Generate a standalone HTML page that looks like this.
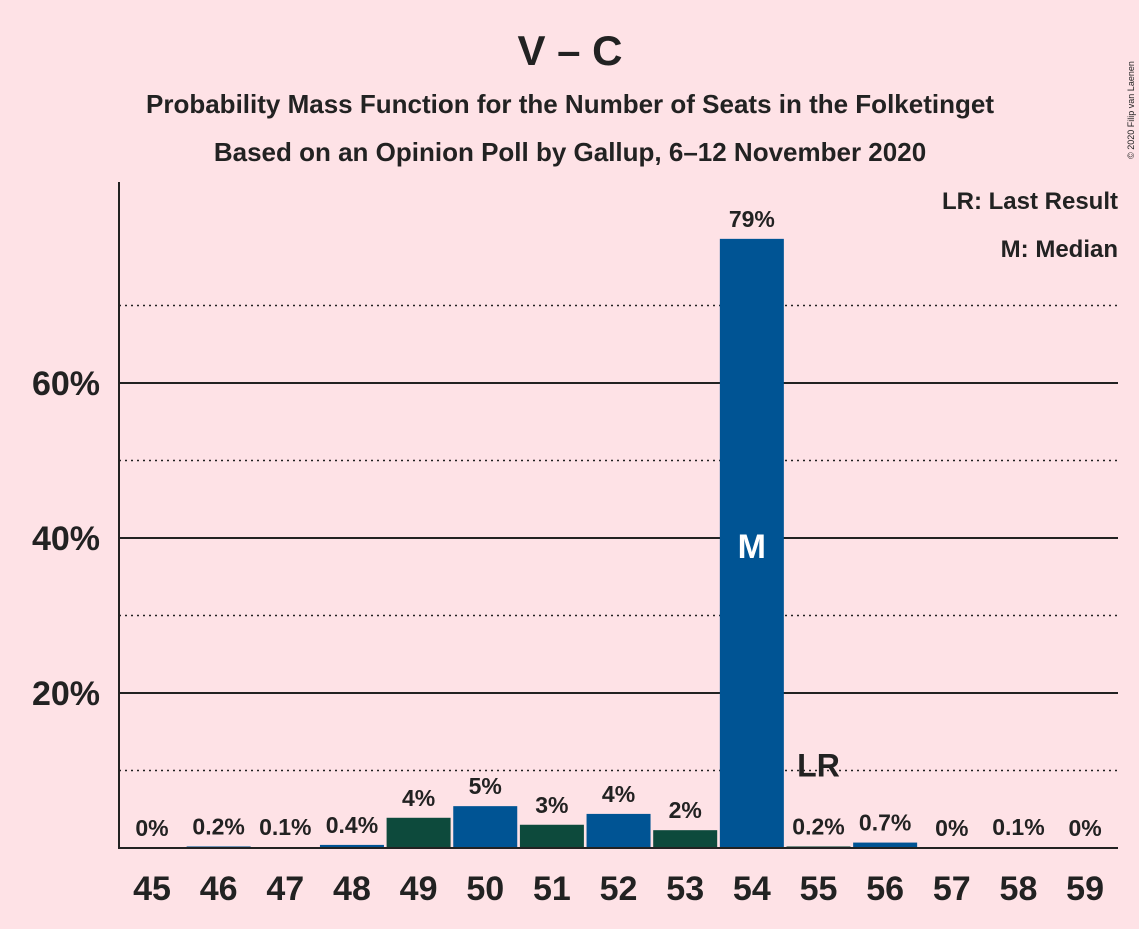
<!DOCTYPE html>
<html><head><meta charset="utf-8"><style>
body{margin:0;background:#fee2e6;font-family:"Liberation Sans",sans-serif}
text{font-family:"Liberation Sans",sans-serif;font-weight:bold;fill:#222}
</style></head><body>
<svg id="chart" width="1139" height="924" xmlns="http://www.w3.org/2000/svg">
<rect width="1139" height="924" fill="#fee2e6"/>
<text x="570" y="65" font-size="42" text-anchor="middle">V – C</text>
<text x="570" y="113" font-size="26" text-anchor="middle">Probability Mass Function for the Number of Seats in the Folketinget</text>
<text x="570" y="161" font-size="26" text-anchor="middle">Based on an Opinion Poll by Gallup, 6–12 November 2020</text>
<text x="1134" y="110" font-size="9" transform="rotate(-90 1134 110)" text-anchor="middle" style="font-weight:normal">© 2020 Filip van Laenen</text>
<text x="1118" y="209" font-size="24" text-anchor="end">LR: Last Result</text>
<text x="1118" y="257" font-size="24" text-anchor="end">M: Median</text>
<g id="grid"></g><g id="bars"></g><g id="labels"></g>
<line x1="119" y1="182" x2="119" y2="848" stroke="#222" stroke-width="2"/>
<line x1="118" y1="848" x2="1118" y2="848" stroke="#222" stroke-width="2"/>
</svg>
<script>
const categories=[45,46,47,48,49,50,51,52,53,54,55,56,57,58,59];
const values=[0,0.2,0.1,0.4,3.9,5.4,3.0,4.4,2.3,78.6,0.2,0.7,0,0.1,0];
const valueLabels=["0%","0.2%","0.1%","0.4%","4%","5%","3%","4%","2%","79%","0.2%","0.7%","0%","0.1%","0%"];
const majorTicks=[20,40,60];
const minorTicks=[10,30,50,70];
const medianSeat=54, lastResultSeat=55;
const ns="http://www.w3.org/2000/svg";
const y=v=>848-v*7.75;
const x=c=>152+(c-45)*66.65;
function mk(t,a,p){const e=document.createElementNS(ns,t);for(const k in a)e.setAttribute(k,a[k]);document.getElementById(p).appendChild(e);return e;}
majorTicks.forEach(t=>{
 const l=mk('line',{x1:119,x2:1118,y1:y(t),y2:y(t),stroke:'#222','stroke-width':2},'grid');
 
 
 const tx=mk('text',{x:100,y:y(t)+12,'font-size':34,'text-anchor':'end'},'grid');tx.textContent=t+'%';
 
 
});
minorTicks.forEach(t=>{
 const l=mk('line',{x1:119,x2:1118,y1:y(t),y2:y(t),stroke:'#222','stroke-width':1.5,'stroke-dasharray':'2,4'},'grid');
 
 
});
categories.forEach((c,i)=>{
 const v=values[i];
 if(v>0){const r=mk('rect',{x:x(c)-32,y:y(v),width:64,height:v*7.75,fill:c%2?'#0d4a3c':'#005494'},'bars');
 
 }
 const ly=Math.min(y(v)-12,836);
 const t=mk('text',{x:x(c),y:ly,'font-size':23,'text-anchor':'middle'},'labels');t.textContent=valueLabels[i];
 
 
 const xt=mk('text',{x:x(c),y:900,'font-size':34,'text-anchor':'middle'},'labels');xt.textContent=c;
 
 
 if(c===medianSeat){const m=mk('text',{x:x(c),y:y(40)+20,'font-size':34,'text-anchor':'middle',style:'fill:#fff'},'labels');m.textContent='M';
 
 }
 if(c===lastResultSeat){const m=mk('text',{x:x(c),y:y(10)+6,'font-size':32,'text-anchor':'middle'},'labels');m.textContent='LR';
 
 }
});
</script>
</body></html>
